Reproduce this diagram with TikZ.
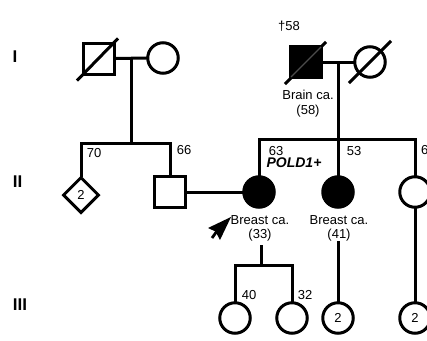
\documentclass[tikz,border=0pt]{standalone}
\usepackage{fontspec}
\setmainfont{Liberation Sans}
\usetikzlibrary{shapes.geometric,arrows.meta,calc}
\begin{document}
\begin{tikzpicture}[x=1pt,y=-1pt,
  ln/.style={line width=3pt,line cap=rect},
  male/.style={draw,line width=3pt,rectangle,minimum size=31pt,inner sep=0pt},
  female/.style={draw,line width=3pt,circle,minimum size=30.5pt,inner sep=0pt,font=\fontsize{13}{14}\selectfont},
  unk/.style={draw,line width=3pt,diamond,minimum width=36pt,minimum height=36pt,inner sep=0pt,font=\fontsize{13}{14}\selectfont},
  aff/.style={fill=black},
  lbl/.style={inner sep=0pt,font=\fontsize{13}{14}\selectfont},
  gen/.style={inner sep=0pt,font=\fontsize{17}{18}\selectfont\bfseries}]
\useasboundingbox (0,0) rectangle (427,340);
\clip (0,0) rectangle (427,340);
% generation labels
\node[gen] (gI) at (15,57) {I};
\node[gen] (gII) at (17.5,182) {II};
\node[gen] (gIII) at (20,305) {III};
% generation I, left couple
\node[male] (I1) at (99,58.5) {};
\node[female] (I2) at (163,58) {};
\draw[ln] ($(I1)+(-21,21)$) -- ($(I1)+(18,-19)$);
\draw[ln] (I1.east) -- (I2.west);
\coordinate (mI1) at (131,58.5);
\coordinate (sI1) at (131,143);
\draw[ln] (mI1) -- (sI1);
% generation I, right couple
\node[male,aff] (I3) at (306,62) {};
\node[female] (I4) at (370,62) {};
\draw[ln] ($(I3)+(-20,21)$) -- ($(I3)+(19,-19)$);
\draw[line width=1.4pt,black!70] ($(I3)+(-15,15)$) -- ($(I3)+(15,-15)$);
\draw[ln] ($(I4)+(-20,20)$) -- ($(I4)+(20,-20)$);
\draw[ln] (I3.east) -- (I4.west);
\node[lbl] (dag) at (289,26) {†58};
\node[lbl] (brain) at (308,95) {Brain ca.};
\node[lbl] (brainage) at (308,111) {(58)};
\coordinate (mI2) at (338,62);
\coordinate (sI2) at (338,139);
\draw[ln] (mI2) -- (sI2);
% generation II, left sibship
\node[unk] (II1) at (81,195) {2};
\node[male] (II2) at (170,192) {};
\coordinate (sl) at (81,143);
\coordinate (sr) at (170,143);
\draw[ln] (II1.north) -- (sl) -- (sr) -- (II2.north);
\node[lbl] (a70) at (94,153) {70};
\node[lbl] (a66) at (184,150) {66};
% generation II, right sibship
\node[female,aff] (P) at (259,192) {};
\node[female,aff] (II4) at (338,192) {};
\node[female] (II5) at (415,192) {};
\draw[ln] (II2.east) -- (P.west);
\coordinate (s2l) at (259,139);
\coordinate (s2r) at (415,139);
\draw[ln] (P.north) -- (s2l) -- (s2r) -- (II5.north);
\draw[ln] (sI2) -- (II4.north);
\node[lbl] (a63) at (276,151) {63};
\node[inner sep=0pt,font=\fontsize{14}{15}\selectfont\bfseries\itshape] (pold) at (294,163) {POLD1+};
\node[lbl] (a53) at (354,151) {53};
\node[lbl,anchor=west] (a6x) at (421,150) {6};
\node[lbl] (bc1) at (260,220) {Breast ca.};
\node[lbl] (bc1a) at (260,235) {(33)};
\node[lbl] (bc2) at (339,220) {Breast ca.};
\node[lbl] (bc2a) at (339,235) {(41)};
% proband arrow (dart)
\coordinate (arH) at (231,217);
\coordinate (arT) at (212,238);
\draw[line width=2.8pt] ($(arH)+(-14,14)$) -- (arT);
\fill ($(arH)$) -- ($(arH)+(-23,11)$) -- ($(arH)+(-15.5,14.5)$) -- ($(arH)+(-11,23)$) -- cycle;
% generation III
\node[female] (III1) at (235,318) {};
\node[female] (III2) at (292,318) {};
\node[female] (III3) at (338,318) {2};
\node[female] (III4) at (415,318) {2};
\coordinate (pd1) at (261,246);
\coordinate (pd2) at (261,265);
\coordinate (s3l) at (235,265);
\coordinate (s3r) at (292,265);
\draw[ln] (pd1) -- (pd2);
\draw[ln] (III1.north) -- (s3l) -- (s3r) -- (III2.north);
\coordinate (d4) at (338,242);
\draw[ln] (d4) -- (III3.north);
\draw[ln] (II5.south) -- (III4.north);
\node[lbl] (a40) at (249,295) {40};
\node[lbl] (a32) at (305,295) {32};
\end{tikzpicture}
\end{document}
